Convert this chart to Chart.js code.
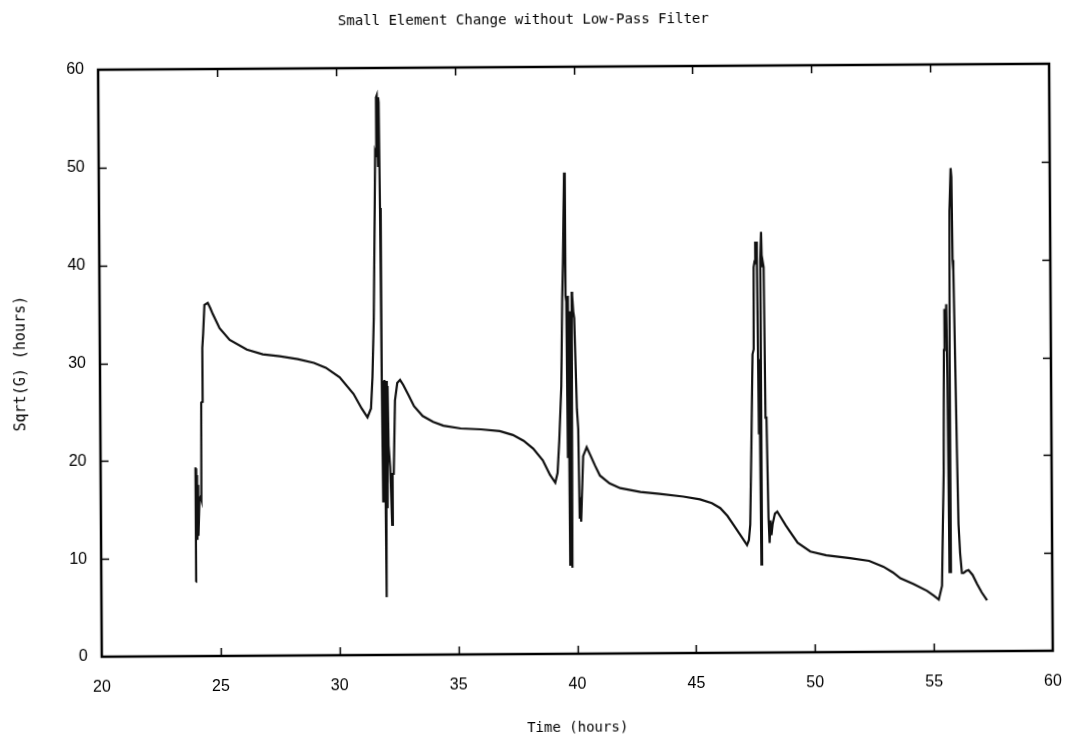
<!DOCTYPE html>
<html>
<head>
<meta charset="utf-8">
<script src="https://cdn.jsdelivr.net/npm/chart.js@4.4.1/dist/chart.umd.min.js"></script>
<style>
  html, body { margin: 0; padding: 0; background: #ffffff; overflow: hidden; }
  #wrap { width: 1071px; height: 745px; }
  /* the reference scan is tilted very slightly */
  #c { transform: rotate(-0.36deg); transform-origin: 535px 372px; }
</style>
</head>
<body>
<div id="wrap"><canvas id="c" width="1071" height="745"></canvas></div>
<script>
// ---- Data (Time in hours, Sqrt(G) in hours) ----
const timeCycle1 = [23.98, 23.99, 24.0, 24.01, 24.02, 24.03, 24.04, 24.05, 24.06, 24.08, 24.1, 24.15, 24.2, 24.23, 24.25, 24.3, 24.31, 24.35, 24.41, 24.55, 24.65, 24.75, 25.04, 25.46, 26.18, 26.85, 27.56, 28.32, 29.0, 29.5, 30.08, 30.66, 31.0, 31.24, 31.39, 31.46];
const sqrtGCycle1 = [7.6, 19.3, 12.2, 19.2, 12.5, 19.0, 12.0, 18.5, 13.0, 17.5, 12.3, 16.0, 16.3, 16.0, 25.9, 26.0, 31.5, 33.0, 35.9, 36.1, 35.6, 35.0, 33.5, 32.3, 31.3, 30.8, 30.6, 30.3, 29.9, 29.4, 28.4, 26.7, 25.2, 24.3, 25.2, 28.4];

const timeCycle2 = [31.53, 31.58, 31.63, 31.66, 31.68, 31.71, 31.75, 31.77, 31.79, 31.82, 31.85, 31.88, 31.9, 31.93, 31.96, 32.0, 32.03, 32.06, 32.09, 32.12, 32.18, 32.25, 32.28, 32.33, 32.4, 32.5, 32.62, 32.75, 32.98, 33.2, 33.56, 34.0, 34.43, 35.16, 36.0, 36.8, 37.35, 37.8, 38.2, 38.6, 38.9, 39.12, 39.22, 39.3];
const sqrtGCycle2 = [34.4, 42.5, 51.3, 51.0, 57.0, 57.2, 50.0, 57.0, 56.5, 45.7, 28.0, 15.7, 28.0, 21.8, 28.1, 5.9, 28.0, 15.0, 27.5, 21.4, 19.2, 13.3, 18.5, 18.5, 26.0, 27.8, 28.1, 27.6, 26.5, 25.4, 24.4, 23.8, 23.4, 23.1, 23.0, 22.8, 22.4, 21.8, 21.0, 19.8, 18.3, 17.5, 18.5, 21.8];

const timeCycle3 = [39.4, 39.46, 39.5, 39.54, 39.57, 39.6, 39.63, 39.66, 39.7, 39.73, 39.77, 39.82, 39.86, 39.88, 39.92, 39.96, 40.05, 40.1, 40.14, 40.17, 40.2, 40.24, 40.3, 40.45, 40.6, 40.8, 41.0, 41.4, 41.85, 42.7, 43.5, 44.5, 45.2, 45.7, 46.05, 46.35, 46.6, 46.9, 47.17, 47.25, 47.31];
const sqrtGCycle3 = [27.4, 36.3, 40.0, 45.5, 49.2, 36.6, 36.0, 20.0, 36.6, 9.0, 35.0, 8.8, 37.0, 36.6, 35.0, 34.3, 25.0, 23.0, 13.8, 16.0, 13.5, 16.2, 20.2, 21.1, 20.3, 19.2, 18.2, 17.4, 16.9, 16.5, 16.3, 16.0, 15.7, 15.3, 14.8, 14.0, 13.1, 12.0, 11.0, 11.5, 13.1];

const timeCycle4 = [47.38, 47.45, 47.5, 47.52, 47.56, 47.59, 47.62, 47.64, 47.66, 47.7, 47.73, 47.77, 47.8, 47.84, 47.87, 47.9, 47.94, 47.98, 48.02, 48.08, 48.12, 48.16, 48.2, 48.25, 48.35, 48.45, 48.6, 48.8, 48.99, 49.3, 49.83, 50.5, 51.5, 52.3, 52.9, 53.3, 53.61, 54.17, 54.73, 55.01, 55.22];
const sqrtGCycle4 = [21.3, 30.5, 31.0, 39.4, 40.0, 42.0, 39.7, 42.0, 39.7, 22.3, 30.0, 9.0, 40.0, 43.0, 39.4, 40.0, 39.4, 24.0, 24.0, 13.8, 11.2, 13.5, 12.0, 13.1, 14.2, 14.4, 13.8, 13.0, 12.3, 11.2, 10.3, 9.9, 9.6, 9.3, 8.7, 8.1, 7.5, 6.9, 6.2, 5.7, 5.3];

const timeCycle5 = [55.36, 55.41, 55.46, 55.5, 55.53, 55.57, 55.61, 55.64, 55.68, 55.71, 55.74, 55.77, 55.83, 55.86, 55.89, 55.92, 55.97, 56.02, 56.07, 56.13, 56.2, 56.27, 56.37, 56.48, 56.65, 56.83, 57.03, 57.25];
const sqrtGCycle5 = [6.7, 12.7, 18.3, 30.8, 35.0, 32.8, 35.5, 28.0, 8.1, 8.1, 30.0, 45.0, 49.4, 48.5, 40.0, 38.9, 30.0, 20.8, 13.0, 10.0, 8.0, 8.0, 8.2, 8.3, 7.8, 6.9, 6.0, 5.2];

const xTickValues = [20, 25, 30, 35, 40, 45, 50, 55, 60];
const yTickValues = [0, 10, 20, 30, 40, 50, 60];

const chartTitle = 'Small Element Change without Low-Pass Filter';
const xAxisTitle = 'Time (hours)';
const yAxisTitle = 'Sqrt(G) (hours)';

// ---- Build the point list from the arrays ----
const allTimes = [].concat(timeCycle1, timeCycle2, timeCycle3, timeCycle4, timeCycle5);
const allValues = [].concat(sqrtGCycle1, sqrtGCycle2, sqrtGCycle3, sqrtGCycle4, sqrtGCycle5);
const points = allTimes.map((t, i) => ({ x: t, y: allValues[i] }));

const labelFont = { family: "'DejaVu Sans Mono', monospace", size: 14 };
const tickFont = { family: "'Liberation Sans', Arial, sans-serif", size: 16 };

// Frame with inward ticks on all four sides (gnuplot style)
const framePlugin = {
  id: 'frame',
  afterDatasetsDraw(chart) {
    const { ctx, chartArea: a, scales } = chart;
    const tl = 8;
    ctx.save();
    ctx.strokeStyle = '#000';
    ctx.lineWidth = 1.5;
    ctx.beginPath();
    xTickValues.forEach(v => {
      if (v === xTickValues[0] || v === xTickValues[xTickValues.length - 1]) return;
      const px = Math.round(scales.x.getPixelForValue(v)) + 0.5;
      ctx.moveTo(px, a.bottom); ctx.lineTo(px, a.bottom - tl);
      ctx.moveTo(px, a.top); ctx.lineTo(px, a.top + tl);
    });
    yTickValues.forEach(v => {
      if (v === yTickValues[0] || v === yTickValues[yTickValues.length - 1]) return;
      const py = Math.round(scales.y.getPixelForValue(v)) + 0.5;
      ctx.moveTo(a.left, py); ctx.lineTo(a.left + tl, py);
      ctx.moveTo(a.right, py); ctx.lineTo(a.right - tl, py);
    });
    ctx.stroke();
    ctx.lineWidth = 2.5;
    ctx.strokeRect(a.left, a.top, a.right - a.left, a.bottom - a.top);
    ctx.restore();
  }
};

const whiteBg = {
  id: 'whiteBg',
  beforeDraw(chart) {
    const { ctx, width, height } = chart;
    ctx.save();
    ctx.fillStyle = '#fff';
    ctx.fillRect(0, 0, width, height);
    ctx.restore();
  }
};

new Chart(document.getElementById('c'), {
  type: 'line',
  data: {
    datasets: [{
      label: yAxisTitle,
      data: points,
      borderColor: '#111',
      borderWidth: 2.2,
      pointRadius: 0,
      tension: 0,
      fill: false
    }]
  },
  options: {
    responsive: false,
    animation: false,
    layout: { padding: { left: 0, right: 20, top: 0, bottom: 0 } },
    plugins: {
      legend: { display: false },
      tooltip: { enabled: false },
      title: {
        display: true,
        text: chartTitle,
        color: '#000',
        font: { ...labelFont, weight: 'normal', lineHeight: 1.2 },
        padding: { top: 12, bottom: 38.2 }
      }
    },
    scales: {
      x: {
        type: 'linear',
        min: 20, max: 60,
        afterFit(scale) { scale.height = 91; scale.paddingLeft = 0; scale.paddingRight = 0; },
        afterBuildTicks(scale) { scale.ticks = xTickValues.map(v => ({ value: v })); },
        grid: { display: false, drawTicks: false },
        border: { display: false },
        ticks: { color: '#000', font: tickFont, padding: 21, maxRotation: 0 },
        title: { display: true, text: xAxisTitle, color: '#000', font: { ...labelFont, lineHeight: 1.1 }, padding: { top: 0, bottom: 9 } }
      },
      y: {
        type: 'linear',
        min: 0, max: 60,
        afterFit(scale) { scale.width = 100; scale.paddingTop = 0; scale.paddingBottom = 0; },
        afterBuildTicks(scale) { scale.ticks = yTickValues.map(v => ({ value: v })); },
        grid: { display: false, drawTicks: false },
        border: { display: false },
        ticks: { color: '#000', font: tickFont, padding: 14 },
        title: { display: true, text: yAxisTitle, color: '#000', font: { ...labelFont, size: 15, lineHeight: 1.1 }, padding: { top: 13, bottom: 0 } }
      }
    }
  },
  plugins: [whiteBg, framePlugin]
});
</script>
</body>
</html>
